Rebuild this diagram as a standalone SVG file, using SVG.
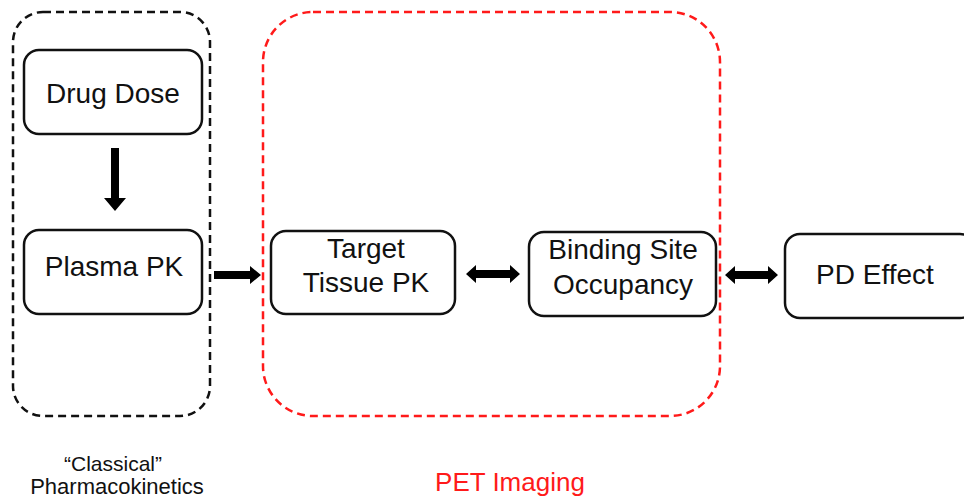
<svg xmlns="http://www.w3.org/2000/svg" width="964" height="499" viewBox="0 0 964 499">
  <style>
    .box { fill: #ffffff; stroke: #111111; stroke-width: 2.5; }
    .grp { fill: none; stroke-width: 2.5; stroke-dasharray: 8 5; }
    .lbl { font-family: "Liberation Sans", Arial, sans-serif; font-size: 28px; fill: #111111; text-anchor: middle; }
    .cap { font-family: "Liberation Sans", Arial, sans-serif; text-anchor: middle; }
    .arr { fill: #000000; stroke: none; }
  </style>
  <rect width="964" height="499" fill="#ffffff"/>

  <!-- grouping frames -->
  <g id="classical-group">
    <rect class="grp" x="13" y="12" width="197" height="404" rx="30" stroke="#111111"/>
    <text class="cap" x="113" y="471" font-size="21" fill="#111111">“Classical”</text>
    <text class="cap" x="117" y="494" font-size="22" fill="#111111">Pharmacokinetics</text>
  </g>
  <g id="pet-group">
    <rect class="grp" x="263" y="12" width="457" height="404" rx="50" stroke="#ff1a1a"/>
    <text class="cap" x="510" y="491" font-size="26" fill="#ff1a1a">PET Imaging</text>
  </g>

  <!-- nodes -->
  <g id="drug-dose">
    <rect class="box" x="24" y="50" width="178" height="84" rx="15"/>
    <text class="lbl" x="113" y="103">Drug Dose</text>
  </g>
  <g id="plasma-pk">
    <rect class="box" x="24" y="230" width="178" height="84" rx="15"/>
    <text class="lbl" x="114" y="276">Plasma PK</text>
  </g>
  <g id="target-tissue-pk">
    <rect class="box" x="271" y="231" width="184" height="83" rx="15"/>
    <text class="lbl" x="366" y="258">Target</text>
    <text class="lbl" x="366" y="292">Tissue PK</text>
  </g>
  <g id="binding-site-occupancy">
    <rect class="box" x="529" y="232" width="187" height="84" rx="15"/>
    <text class="lbl" x="623" y="259">Binding Site</text>
    <text class="lbl" x="623" y="294">Occupancy</text>
  </g>
  <g id="pd-effect">
    <rect class="box" x="785" y="234" width="190" height="84" rx="15"/>
    <text class="lbl" x="875" y="284">PD Effect</text>
  </g>

  <!-- connectors -->
  <g id="connectors">
    <polygon class="arr" points="111,148 119,148 119,198 126,198 115,211 104,198 111,198"/>
    <polygon class="arr" points="214,271 250,271 250,266 261,275 250,284 250,279 214,279"/>
    <polygon class="arr" points="466,274 476,265 476,270 510,270 510,265 520,274 510,283 510,278 476,278 476,283"/>
    <polygon class="arr" points="725,275 735,266 735,271 768,271 768,266 778,275 768,284 768,279 735,279 735,284"/>
  </g>
</svg>
